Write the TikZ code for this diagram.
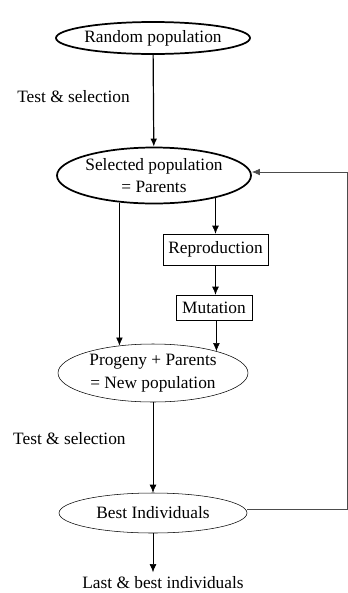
\documentclass[tikz,border=0pt]{standalone}
\usepackage{fontspec}
\setmainfont{Liberation Serif}
\usetikzlibrary{shapes.geometric,arrows.meta}

\begin{document}
\begin{tikzpicture}[x=0.75pt,y=-0.75pt,font=\fontsize{13}{17}\selectfont,
        >={Latex[length=6pt,width=5pt]},
        pop/.style={shape=ellipse,draw=black,inner sep=0pt,align=center,minimum width=142.5pt},
        oper/.style={shape=rectangle,draw=black,inner sep=0pt},
        back/.style={draw=black!70,line width=0.5pt}]

                \useasboundingbox (0,0) rectangle (348,593);

                \node[pop,line width=1.3pt,minimum height=24pt] (rand) at (153,38) {Random population};
                \node[pop,line width=1.3pt,minimum height=42pt,minimum width=144pt] (sel) at (154,175.5) {Selected population\\= Parents};
                \node[oper,minimum width=78.75pt,minimum height=23.25pt] (repro) at (215.5,249.5) {Reproduction};
                \node[oper,minimum width=57pt,minimum height=18.75pt] (mut) at (214,307.5) {Mutation};
                \node[pop,minimum height=43.5pt] (prog) at (153,373) {Progeny + Parents\\= New population};
                \node[pop,minimum height=30pt,minimum width=141pt] (best) at (153,513) {Best Individuals};
                \node (last) at (163,583) {Last \& best individuals};

                \coordinate (rt) at (347,172);

                \draw[->,line width=0.9pt] (rand) edge node[left=14pt,pos=0.45] {Test \& selection} (sel);
                \draw[->] (sel.218) -- (sel.218 |- prog.140);
                \draw[->] (repro.north |- sel.341) -- (repro.north);
                \draw[->] (repro.south) -- (repro.south |- mut.north);
                \draw[->] (prog.19 |- mut.south) -- (prog.19);
                \draw[->] (prog) edge node[left=17pt,pos=0.4] {Test \& selection} (best);
                \draw[->] (best.south) -- (best.south |- last.north);

                \draw[back,->] (best.east |- 0,509) -| (rt) -- (sel.east |- rt);

            \end{tikzpicture}
\end{document}
